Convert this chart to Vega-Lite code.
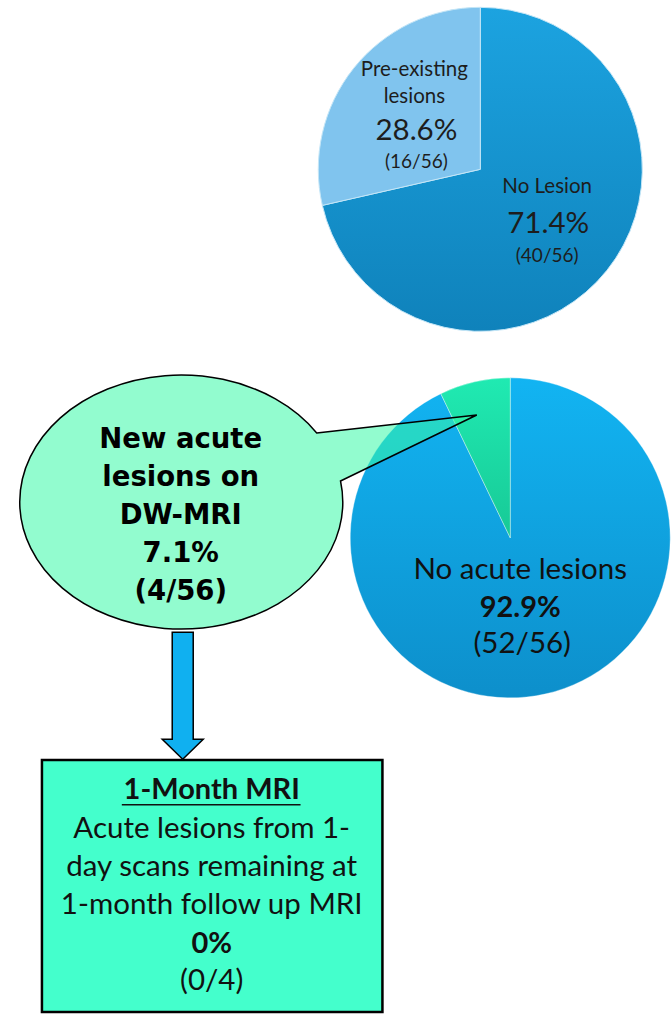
{
  "$schema": "https://vega.github.io/schema/vega-lite/v6.json",
  "width": 672,
  "height": 1014,
  "padding": 0,
  "autosize": {"type": "fit", "contains": "padding"},
  "background": "#ffffff",
  "config": {"view": {"stroke": null}, "text": {"lineBreak": "\n"}},
  "datasets": {
    "pie1": [
      {"category": "No Lesion", "count": 40, "total": 56},
      {"category": "Pre-existing\nlesions", "count": 16, "total": 56}
    ],
    "pie2": [
      {"category": "No acute lesions", "count": 52, "total": 56},
      {"category": "New acute\nlesions on\nDW-MRI", "count": 4, "total": 56}
    ],
    "followup": [
      {"timepoint": "1-Month MRI", "category": "Acute lesions from 1-\nday scans remaining at\n1-month  follow up MRI", "count": 0, "total": 4}
    ]
  },
  "layer": [
    {
      "data": {"name": "pie1"},
      "mark": {"type": "arc", "outerRadius": 162, "stroke": "#c4e6f7", "strokeWidth": 1},
      "encoding": {
        "x": {"datum": 481, "type": "quantitative", "scale": {"domain": [0, 672], "nice": false, "zero": false}, "axis": null},
        "y": {"datum": 170, "type": "quantitative", "scale": {"domain": [0, 1014], "nice": false, "zero": false, "reverse": true}, "axis": null},
        "theta": {"field": "count", "type": "quantitative", "stack": true, "scale": {"domain": [0, 56]}},
        "order": {"field": "count", "type": "quantitative", "sort": "descending"},
        "fill": {
          "condition": {"test": "indexof(datum.category, 'Pre-existing') === 0", "value": "#80c4ee"},
          "value": {"gradient": "linear", "x1": 0, "y1": 0, "x2": 0, "y2": 1, "stops": [{"offset": 0, "color": "#1ca3e0"}, {"offset": 1, "color": "#0f82bb"}]}
        }
      }
    },
    {
      "data": {"name": "pie2"},
      "mark": {"type": "arc", "outerRadius": 160, "stroke": "#ffffff", "strokeOpacity": 0.35, "strokeWidth": 1},
      "encoding": {
        "x": {"datum": 511, "type": "quantitative"},
        "y": {"datum": 540, "type": "quantitative"},
        "theta": {"field": "count", "type": "quantitative", "stack": true},
        "order": {"field": "count", "type": "quantitative", "sort": "descending"},
        "fill": {
          "condition": {"test": "indexof(datum.category, 'New acute') === 0", "value": {"gradient": "linear", "x1": 0, "y1": 0, "x2": 0, "y2": 1, "stops": [{"offset": 0, "color": "#20eab2"}, {"offset": 1, "color": "#17c996"}]}},
          "value": {"gradient": "linear", "x1": 0, "y1": 0, "x2": 0, "y2": 1, "stops": [{"offset": 0, "color": "#12b4f2"}, {"offset": 1, "color": "#0d8fcb"}]}
        }
      }
    },
    {
      "data": {"name": "pie1"},
      "transform": [{"filter": "indexof(datum.category, 'Pre-existing') === 0"}],
      "mark": {"type": "text", "font": "Lato", "fontSize": 20.5, "color": "#1d1d1d", "lineHeight": 27, "baseline": "middle"},
      "encoding": {"x": {"datum": 415, "type": "quantitative"}, "y": {"datum": 70, "type": "quantitative"}, "text": {"field": "category"}}
    },
    {
      "data": {"name": "pie1"},
      "transform": [{"filter": "indexof(datum.category, 'Pre-existing') === 0"}, {"calculate": "datum.count / datum.total", "as": "share"}],
      "mark": {"type": "text", "font": "Lato", "fontSize": 29.5, "color": "#1d1d1d", "baseline": "middle"},
      "encoding": {"x": {"datum": 417, "type": "quantitative"}, "y": {"datum": 132, "type": "quantitative"}, "text": {"field": "share", "type": "quantitative", "format": ".1%"}}
    },
    {
      "data": {"name": "pie1"},
      "transform": [{"filter": "indexof(datum.category, 'Pre-existing') === 0"}, {"calculate": "'(' + datum.count + '/' + datum.total + ')'", "as": "frac"}],
      "mark": {"type": "text", "font": "Lato", "fontSize": 19, "color": "#1d1d1d", "baseline": "middle"},
      "encoding": {"x": {"datum": 417, "type": "quantitative"}, "y": {"datum": 163, "type": "quantitative"}, "text": {"field": "frac"}}
    },
    {
      "data": {"name": "pie1"},
      "transform": [{"filter": "datum.category === 'No Lesion'"}],
      "mark": {"type": "text", "font": "Lato", "fontSize": 20.5, "color": "#1d1d1d", "baseline": "middle"},
      "encoding": {"x": {"datum": 548, "type": "quantitative"}, "y": {"datum": 188, "type": "quantitative"}, "text": {"field": "category"}}
    },
    {
      "data": {"name": "pie1"},
      "transform": [{"filter": "datum.category === 'No Lesion'"}, {"calculate": "datum.count / datum.total", "as": "share"}],
      "mark": {"type": "text", "font": "Lato", "fontSize": 29.5, "color": "#1d1d1d", "baseline": "middle"},
      "encoding": {"x": {"datum": 549, "type": "quantitative"}, "y": {"datum": 225, "type": "quantitative"}, "text": {"field": "share", "type": "quantitative", "format": ".1%"}}
    },
    {
      "data": {"name": "pie1"},
      "transform": [{"filter": "datum.category === 'No Lesion'"}, {"calculate": "'(' + datum.count + '/' + datum.total + ')'", "as": "frac"}],
      "mark": {"type": "text", "font": "Lato", "fontSize": 19, "color": "#1d1d1d", "baseline": "middle"},
      "encoding": {"x": {"datum": 548, "type": "quantitative"}, "y": {"datum": 257, "type": "quantitative"}, "text": {"field": "frac"}}
    },
    {
      "data": {"name": "pie2"},
      "transform": [{"filter": "datum.category === 'No acute lesions'"}],
      "mark": {"type": "text", "font": "Lato", "fontSize": 29.5, "color": "#111111", "baseline": "middle"},
      "encoding": {"x": {"datum": 521, "type": "quantitative"}, "y": {"datum": 572, "type": "quantitative"}, "text": {"field": "category"}}
    },
    {
      "data": {"name": "pie2"},
      "transform": [{"filter": "datum.category === 'No acute lesions'"}, {"calculate": "datum.count / datum.total", "as": "share"}],
      "mark": {"type": "text", "font": "Lato", "fontSize": 29, "fontWeight": "bold", "color": "#111111", "baseline": "middle"},
      "encoding": {"x": {"datum": 521, "type": "quantitative"}, "y": {"datum": 610, "type": "quantitative"}, "text": {"field": "share", "type": "quantitative", "format": ".1%"}}
    },
    {
      "data": {"name": "pie2"},
      "transform": [{"filter": "datum.category === 'No acute lesions'"}, {"calculate": "'(' + datum.count + '/' + datum.total + ')'", "as": "frac"}],
      "mark": {"type": "text", "font": "Lato", "fontSize": 29.5, "color": "#111111", "baseline": "middle"},
      "encoding": {"x": {"datum": 523, "type": "quantitative"}, "y": {"datum": 647, "type": "quantitative"}, "text": {"field": "frac"}}
    },
    {
      "data": {"name": "pie2"},
      "transform": [{"filter": "indexof(datum.category, 'New acute') === 0"}],
      "mark": {"type": "point", "filled": true, "opacity": 1, "size": 40000, "shape": "M 1.355 -0.691 L 2.955 -0.87 L 1.593 -0.21 A 1.615 1.27 0 1 1 1.355 -0.691 Z", "fill": "#39f9a7", "fillOpacity": 0.55, "stroke": "#000000", "strokeWidth": 1.5, "strokeOpacity": 1},
      "encoding": {"x": {"datum": 181.5, "type": "quantitative"}, "y": {"datum": 504, "type": "quantitative"}}
    },
    {
      "data": {"name": "pie2"},
      "transform": [{"filter": "indexof(datum.category, 'New acute') === 0"}, {"calculate": "datum.category + '\\n' + format(datum.count / datum.total, '.1%') + '\\n(' + datum.count + '/' + datum.total + ')'", "as": "label"}],
      "mark": {"type": "text", "font": "DejaVu Sans", "fontWeight": "bold", "fontSize": 27.5, "lineHeight": 38, "color": "#000000", "baseline": "middle"},
      "encoding": {"x": {"datum": 181, "type": "quantitative"}, "y": {"datum": 442, "type": "quantitative"}, "text": {"field": "label"}}
    },
    {
      "data": {"name": "followup"},
      "mark": {"type": "point", "filled": true, "opacity": 1, "size": 40000, "shape": "M -0.105 -0.65 L 0.105 -0.65 L 0.105 0.42 L 0.205 0.42 L 0 0.62 L -0.205 0.42 L -0.105 0.42 Z", "fill": "#10b0f0", "stroke": "#000000", "strokeWidth": 1.5},
      "encoding": {"x": {"datum": 183, "type": "quantitative"}, "y": {"datum": 700, "type": "quantitative"}}
    },
    {
      "data": {"name": "followup"},
      "mark": {"type": "rect", "fill": "#44ffcc", "stroke": "#000000", "strokeWidth": 2.5},
      "encoding": {"x": {"datum": 42, "type": "quantitative"}, "x2": {"datum": 383}, "y": {"datum": 763, "type": "quantitative"}, "y2": {"datum": 1016}}
    },
    {
      "data": {"name": "followup"},
      "mark": {"type": "text", "font": "Lato", "fontSize": 29, "fontWeight": "bold", "color": "#111111", "baseline": "middle"},
      "encoding": {"x": {"datum": 212, "type": "quantitative"}, "y": {"datum": 793, "type": "quantitative"}, "text": {"field": "timepoint"}}
    },
    {
      "data": {"name": "followup"},
      "mark": {"type": "rule", "color": "#111111", "strokeWidth": 1.5},
      "encoding": {"x": {"datum": 122, "type": "quantitative"}, "x2": {"datum": 301}, "y": {"datum": 808, "type": "quantitative"}}
    },
    {
      "data": {"name": "followup"},
      "mark": {"type": "text", "font": "Lato", "fontSize": 29.5, "lineHeight": 38, "color": "#111111", "baseline": "middle"},
      "encoding": {"x": {"datum": 212, "type": "quantitative"}, "y": {"datum": 832, "type": "quantitative"}, "text": {"field": "category"}}
    },
    {
      "data": {"name": "followup"},
      "transform": [{"calculate": "datum.count / datum.total", "as": "share"}],
      "mark": {"type": "text", "font": "Lato", "fontSize": 29, "fontWeight": "bold", "color": "#111111", "baseline": "middle"},
      "encoding": {"x": {"datum": 212, "type": "quantitative"}, "y": {"datum": 948, "type": "quantitative"}, "text": {"field": "share", "type": "quantitative", "format": ".0%"}}
    },
    {
      "data": {"name": "followup"},
      "transform": [{"calculate": "'(' + datum.count + '/' + datum.total + ')'", "as": "frac"}],
      "mark": {"type": "text", "font": "Lato", "fontSize": 29.5, "color": "#111111", "baseline": "middle"},
      "encoding": {"x": {"datum": 212, "type": "quantitative"}, "y": {"datum": 985, "type": "quantitative"}, "text": {"field": "frac"}}
    }
  ]
}
